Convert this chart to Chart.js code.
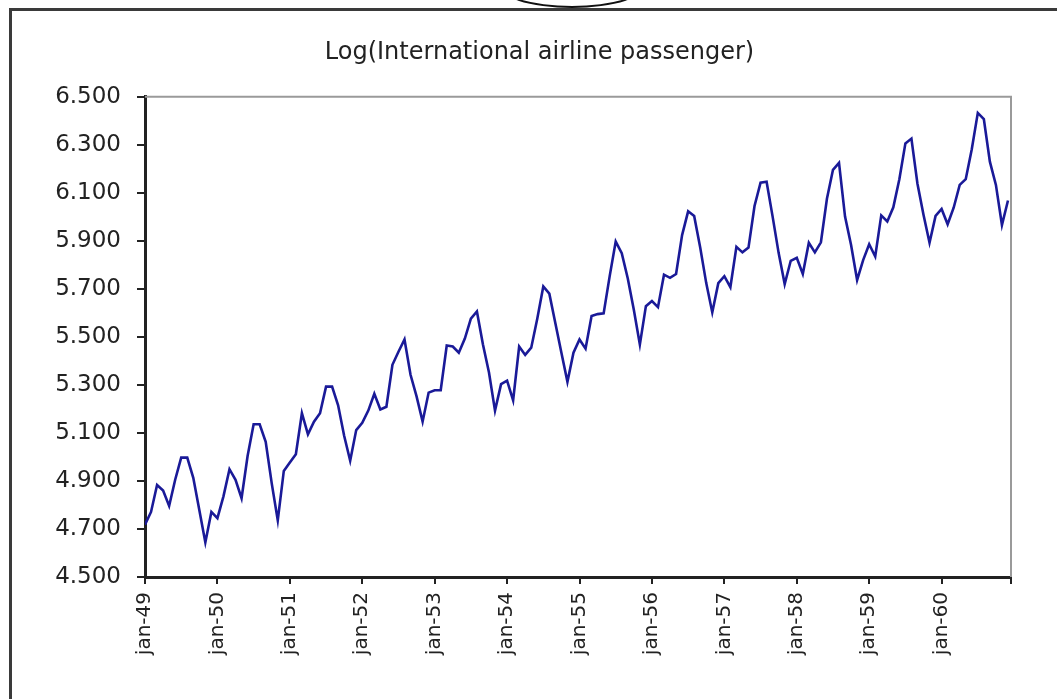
<!DOCTYPE html>
<html>
<head>
<meta charset="utf-8">
<title>Log(International airline passenger)</title>
<script src="https://cdn.jsdelivr.net/npm/chart.js@4"></script>
<style>
  html, body { margin: 0; padding: 0; background: #fff; overflow: hidden; }
  #wrap { position: relative; width: 1057px; height: 699px; }
  #frame { position: absolute; left: 9px; top: 8px; width: 1100px; height: 750px;
           border-left: 3px solid #3a3a3a; border-top: 3px solid #3a3a3a; }
  #oval { position: absolute; left: 496px; top: -42px; width: 148px; height: 46px;
          border: 2px solid #111; border-radius: 50%; }
  #chartOne { position: absolute; left: 0; top: 0; }
</style>
</head>
<body>
<div id="wrap">
  <div id="frame"></div>
  <div id="oval"></div>
  <canvas id="chartOne" width="1057" height="699"></canvas>
</div>
<script>
// log of monthly passengers, one array per year (jan..dec)
const y1949 = [4.718, 4.771, 4.883, 4.860, 4.796, 4.905, 4.997, 4.997, 4.913, 4.779, 4.644, 4.771];
const y1950 = [4.745, 4.836, 4.949, 4.905, 4.828, 5.004, 5.136, 5.136, 5.063, 4.890, 4.736, 4.942];
const y1951 = [4.977, 5.011, 5.182, 5.094, 5.147, 5.182, 5.293, 5.293, 5.215, 5.088, 4.984, 5.112];
const y1952 = [5.142, 5.193, 5.263, 5.198, 5.209, 5.384, 5.438, 5.489, 5.342, 5.252, 5.147, 5.268];
const y1953 = [5.278, 5.278, 5.464, 5.460, 5.434, 5.493, 5.576, 5.606, 5.468, 5.352, 5.193, 5.303];
const y1954 = [5.318, 5.236, 5.460, 5.425, 5.455, 5.576, 5.710, 5.680, 5.557, 5.434, 5.313, 5.434];
const y1955 = [5.489, 5.451, 5.587, 5.595, 5.598, 5.753, 5.897, 5.849, 5.743, 5.613, 5.468, 5.628];
const y1956 = [5.649, 5.624, 5.759, 5.746, 5.762, 5.924, 6.023, 6.004, 5.872, 5.724, 5.602, 5.724];
const y1957 = [5.753, 5.707, 5.875, 5.852, 5.872, 6.045, 6.142, 6.146, 6.001, 5.849, 5.720, 5.817];
const y1958 = [5.829, 5.762, 5.892, 5.852, 5.894, 6.075, 6.196, 6.225, 6.001, 5.883, 5.737, 5.820];
const y1959 = [5.886, 5.835, 6.006, 5.981, 6.040, 6.157, 6.306, 6.326, 6.138, 6.009, 5.892, 6.004];
const y1960 = [6.033, 5.969, 6.038, 6.133, 6.157, 6.282, 6.433, 6.407, 6.230, 6.133, 5.966, 6.068];

const yearLabels = ['jan-49', 'jan-50', 'jan-51', 'jan-52', 'jan-53', 'jan-54',
                    'jan-55', 'jan-56', 'jan-57', 'jan-58', 'jan-59', 'jan-60'];
const yTicks = [4.5, 4.7, 4.9, 5.1, 5.3, 5.5, 5.7, 5.9, 6.1, 6.3, 6.5];

const series = [].concat(y1949, y1950, y1951, y1952, y1953, y1954,
                         y1955, y1956, y1957, y1958, y1959, y1960);
const points = series.map((v, i) => ({ x: i, y: v }));

// gray top/right border of the plot area
const plotBorder = {
    id: 'plotBorder',
    afterDraw(chart) {
        const a = chart.chartArea;
        const ctx = chart.ctx;
        ctx.save();
        ctx.strokeStyle = '#9a9a9a';
        ctx.lineWidth = 2;
        ctx.beginPath();
        ctx.moveTo(a.left, a.top);
        ctx.lineTo(a.right, a.top);
        ctx.lineTo(a.right, a.bottom);
        ctx.stroke();
        ctx.restore();
    }
};

const ctxOne = document.getElementById('chartOne').getContext('2d');
const chartOne = new Chart(ctxOne, {
    type: 'line',
    data: {
        datasets: [{
            label: 'Log passengers',
            data: points,
            borderColor: '#1a1a98',
            borderWidth: 2.6,
            pointRadius: 0,
            tension: 0,
            fill: false
        }]
    },
    options: {
        responsive: false,
        animation: false,
        devicePixelRatio: 1,
        layout: { padding: { left: 22, right: 0, top: 0, bottom: 0 } },
        plugins: {
            legend: { display: false },
            tooltip: { enabled: false },
            title: {
                display: true,
                text: 'Log(International airline passenger)',
                color: '#222',
                font: { family: 'DejaVu Sans', size: 24, weight: 'normal', lineHeight: 1.2 },
                padding: { top: 38, bottom: 30 }
            }
        },
        scales: {
            x: {
                type: 'linear',
                min: 0,
                max: 143.5,
                afterFit: (scale) => { scale.height = 122; },
                afterBuildTicks: (scale) => {
                    scale.ticks = yearLabels.map((l, i) => ({ value: i * 12 }))
                        .concat([{ value: 143.5 }]);
                },
                ticks: {
                    autoSkip: false,
                    minRotation: 90,
                    maxRotation: 90,
                    padding: 8,
                    color: '#222',
                    font: { family: 'DejaVu Sans', size: 20 },
                    callback: (value) => {
                        const k = value / 12;
                        return Number.isInteger(k) && yearLabels[k] ? yearLabels[k] : '';
                    }
                },
                grid: {
                    drawOnChartArea: false,
                    drawTicks: true,
                    tickLength: 7,
                    color: '#222',
                    lineWidth: 2
                },
                border: { display: true, color: '#222', width: 3 }
            },
            y: {
                min: 4.5,
                max: 6.5,
                afterFit: (scale) => { scale.width = 123; },
                afterBuildTicks: (scale) => {
                    scale.ticks = yTicks.map((v) => ({ value: v }));
                },
                ticks: {
                    padding: 16,
                    color: '#222',
                    font: { family: 'DejaVu Sans', size: 23 },
                    callback: (value) => Number(value).toFixed(3)
                },
                grid: {
                    drawOnChartArea: false,
                    drawTicks: true,
                    tickLength: 8,
                    color: '#222',
                    lineWidth: 2
                },
                border: { display: true, color: '#222', width: 3 }
            },
            // empty space on the right of the plot
            yRight: {
                position: 'right',
                min: 4.5,
                max: 6.5,
                afterFit: (scale) => { scale.width = 46; },
                ticks: { display: false },
                grid: { display: false },
                border: { display: false }
            }
        }
    },
    plugins: [plotBorder]
});
</script>
</body>
</html>
